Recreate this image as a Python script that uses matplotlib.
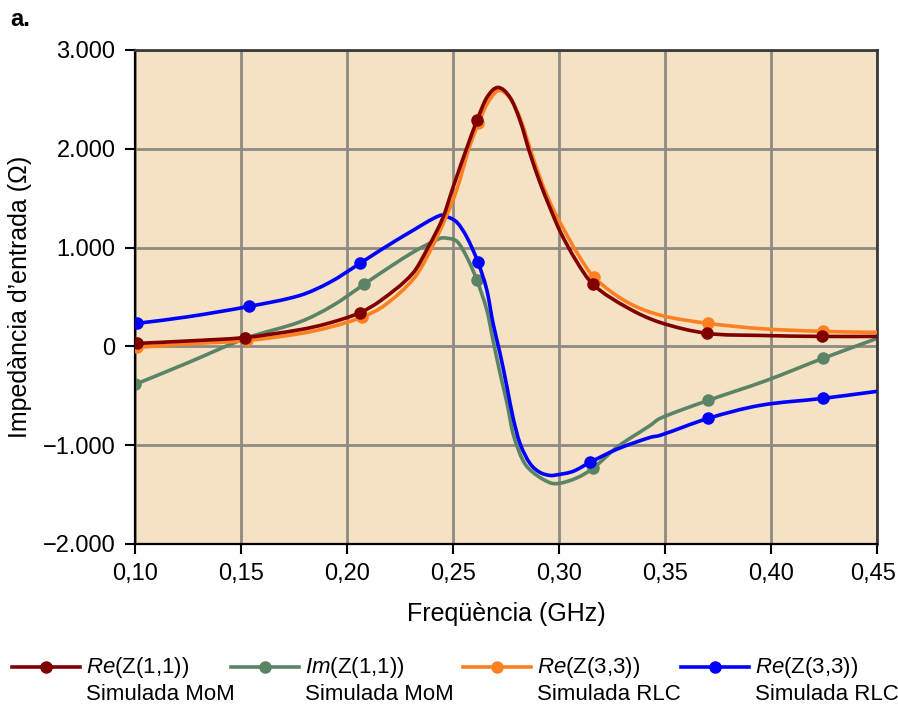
import numpy as np
import matplotlib
matplotlib.use("Agg")
import matplotlib.pyplot as plt
import matplotlib.transforms as mtransforms
from matplotlib.lines import Line2D
from matplotlib.path import Path
from matplotlib.patches import PathPatch

plt.rcParams['font.family'] = ['Liberation Sans', 'DejaVu Sans']
plt.rcParams['mathtext.fontset'] = 'custom'
plt.rcParams['mathtext.rm'] = 'Liberation Sans'
plt.rcParams['mathtext.it'] = 'Liberation Sans:italic'

# Re(Z(1,1)) simulated with MoM
f_re11 = [0.101, 0.125, 0.152, 0.178, 0.191, 0.206, 0.216, 0.231, 0.2382, 0.2453,
          0.250, 0.2566, 0.2613, 0.266, 0.2712, 0.2769, 0.2816, 0.2863, 0.291, 0.2958,
          0.3005, 0.308, 0.316, 0.332, 0.3476, 0.370, 0.395, 0.424, 0.450]
z_re11 = [30, 55, 90, 170, 233, 340, 466, 739, 1000, 1306,
          1609, 2014, 2287, 2520, 2621, 2520, 2287, 1953, 1660, 1400,
          1165, 870, 628, 395, 243, 132, 111, 101, 101]
mk_re11 = [0, 2, 5, 12, 22, 25, 27]

# Im(Z(1,1)) simulated with MoM
f_im11 = [0.100, 0.125, 0.152, 0.178, 0.193, 0.208, 0.2156, 0.231, 0.2439, 0.2472,
          0.252, 0.2566, 0.2613, 0.266, 0.2689, 0.2722, 0.2755, 0.2783, 0.283, 0.2877,
          0.2958, 0.3005, 0.3085, 0.316, 0.3274, 0.343, 0.3476, 0.3703, 0.398, 0.4245,
          0.450]
z_im11 = [-385, -165, 80, 250, 410, 627, 739, 951, 1093, 1095,
          1060, 901, 668, 364, 61, -273, -577, -881, -1154, -1275,
          -1380, -1385, -1330, -1235, -1020, -800, -729, -547, -344, -121,
          80]
mk_im11 = [0, 2, 5, 12, 23, 27, 29]

# Re(Z(3,3)) from the RLC model
f_re33r = [0.101, 0.125, 0.153, 0.178, 0.192, 0.207, 0.218, 0.232, 0.240, 0.2465,
           0.252, 0.2575, 0.262, 0.2665, 0.2715, 0.277, 0.282, 0.287, 0.292, 0.297,
           0.302, 0.309, 0.3165, 0.332, 0.348, 0.3705, 0.395, 0.4245, 0.450]
z_re33r = [-10, 25, 60, 130, 195, 295, 420, 700, 1000, 1300,
           1600, 2000, 2260, 2470, 2590, 2510, 2290, 1960, 1650, 1400,
           1195, 930, 700, 450, 315, 233, 180, 152, 142]
mk_re33r = [0, 2, 5, 12, 22, 25, 27]

# Re(Z(3,3)) from the RLC model, blue trace
f_re33b = [0.101, 0.125, 0.1538, 0.1778, 0.192, 0.2061, 0.2156, 0.2311, 0.2439, 0.2475,
           0.2519, 0.2566, 0.2618, 0.266, 0.2689, 0.2722, 0.2755, 0.2783, 0.2816, 0.2863,
           0.291, 0.2958, 0.299, 0.3066, 0.3146, 0.3274, 0.343, 0.3476, 0.3703, 0.3948,
           0.4245, 0.450]
z_re33b = [233, 300, 405, 516, 650, 840, 972, 1174, 1326, 1310,
           1255, 1103, 850, 567, 233, -71, -415, -719, -982, -1184,
           -1275, -1306, -1300, -1265, -1174, -1040, -921, -901, -729, -597,
           -526, -455]
mk_re33b = [0, 2, 5, 12, 24, 28, 30]

xticks = [0.10, 0.15, 0.20, 0.25, 0.30, 0.35, 0.40, 0.45]
xlabels = ['0,10', '0,15', '0,20', '0,25', '0,30', '0,35', '0,40', '0,45']
yticks = [-2000, -1000, 0, 1000, 2000, 3000]
ylabels = ['\u22122.000', '\u22121.000', '0', '1.000', '2.000', '3.000']

names = [r'$\mathit{Re}$(Z(1,1))', r'$\mathit{Im}$(Z(1,1))',
         r'$\mathit{Re}$(Z(3,3))', r'$\mathit{Re}$(Z(3,3))']
subnames = ['Simulada MoM', 'Simulada MoM', 'Simulada RLC', 'Simulada RLC']
colors = ['#800000', '#5B8466', '#FF8020', '#0000FF']


def smooth_path(x, y):
    # cubic Bezier segments through every point (Hermite tangents in x)
    x = np.asarray(x, float)
    y = np.asarray(y, float)
    n = len(x)
    m = np.zeros(n)
    m[0] = (y[1] - y[0]) / (x[1] - x[0])
    m[-1] = (y[-1] - y[-2]) / (x[-1] - x[-2])
    for i in range(1, n - 1):
        m[i] = (y[i+1] - y[i-1]) / (x[i+1] - x[i-1])
    verts = [(x[0], y[0])]
    codes = [Path.MOVETO]
    for i in range(n - 1):
        h = x[i+1] - x[i]
        verts += [(x[i] + h/3, y[i] + m[i]*h/3),
                  (x[i+1] - h/3, y[i+1] - m[i+1]*h/3),
                  (x[i+1], y[i+1])]
        codes += [Path.CURVE4] * 3
    return Path(verts, codes)


fig = plt.figure(figsize=(8.98, 7.09), dpi=100)
ax = fig.add_axes([135/898, 1-544/709, 742/898, 494/709])
ax.set_facecolor('#F5E1C4')

lw = 2.6
ms = 8
series = [
    (f_im11, z_im11, mk_im11, colors[1], 2),
    (f_re33b, z_re33b, mk_re33b, colors[3], 3),
    (f_re33r, z_re33r, mk_re33r, colors[2], 4),
    (f_re11, z_re11, mk_re11, colors[0], 5),
]
for f, z, mk, c, zo in series:
    ax.add_patch(PathPatch(smooth_path(f, z), facecolor='none', edgecolor=c,
                           lw=lw, capstyle='round', joinstyle='round', zorder=zo))
    ax.plot([f[i] for i in mk], [z[i] for i in mk], ls='none', marker='o',
            ms=ms, color=c, zorder=zo)

ax.set_xlim(0.10, 0.45)
ax.set_ylim(-2000, 3000)
ax.set_xticks(xticks)
ax.set_xticklabels(xlabels)
ax.set_yticks(yticks)
ax.set_yticklabels(ylabels)
ax.grid(True, color='#8f8a82', lw=2.0, zorder=1)
ax.set_axisbelow(True)
ax.tick_params(axis='both', direction='out', length=7, width=1.5,
               labelsize=17, color='black', pad=7)

# keep the last x label inside the canvas
last = ax.get_xticklabels()[-1]
last.set_transform(last.get_transform() +
                   mtransforms.ScaledTranslation(-4/100, 0, fig.dpi_scale_trans))

for side in ['left', 'bottom']:
    ax.spines[side].set_color('black')
    ax.spines[side].set_linewidth(1.6)
for side in ['top', 'right']:
    ax.spines[side].set_color('#3a3a3a')
    ax.spines[side].set_linewidth(2.0)

ax.set_xlabel('Freqüència (GHz)', fontsize=18, labelpad=12)
ax.set_ylabel('Impedància d\u2019entrada (\u03a9)', fontsize=18, labelpad=8)

fig.text(10/898, 1-20/709, 'a.', fontsize=17, fontweight='bold', va='center', ha='left')

# legend drawn by hand: handle aligned with the first text line
leg_x = [12, 231, 463, 681]
for i, x0 in enumerate(leg_x):
    y1 = 1 - 667/709
    y2 = 1 - 695/709
    fig.add_artist(Line2D([x0/898, (x0+68)/898], [y1, y1], transform=fig.transFigure,
                          color=colors[i], lw=lw))
    fig.add_artist(Line2D([(x0+34)/898], [y1], transform=fig.transFigure,
                          color=colors[i], marker='o', ms=ms, lw=0))
    fig.text((x0+74)/898, y1, names[i], fontsize=16, va='center', ha='left')
    fig.text((x0+74)/898, y2, subnames[i], fontsize=16, va='center', ha='left')

fig.savefig('out.png', dpi=100)
